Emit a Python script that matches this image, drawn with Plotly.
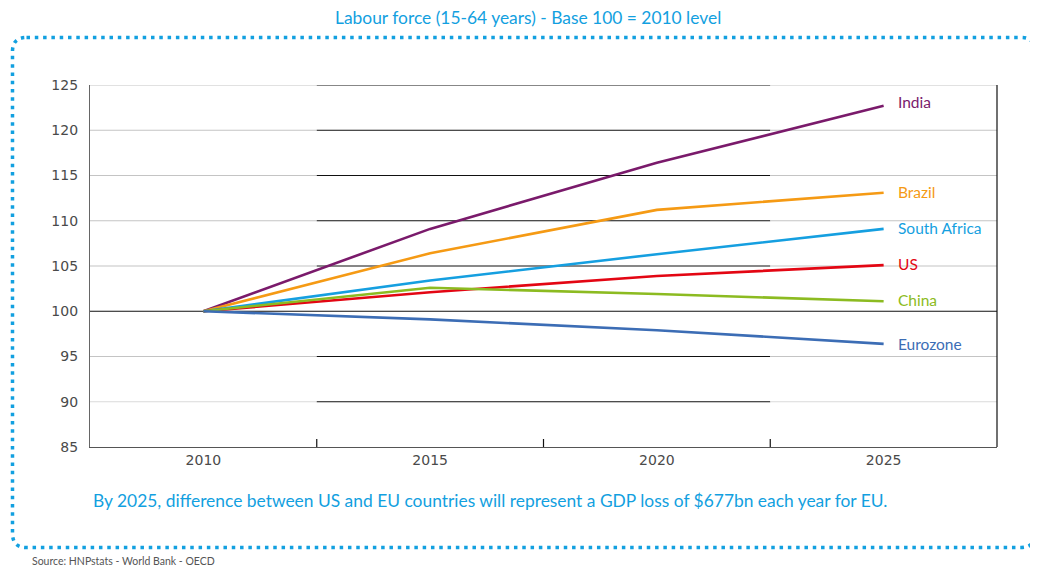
import plotly.graph_objects as go

years = [2010, 2015, 2020, 2025]
india = [100, 109.1, 116.4, 122.7]
brazil = [100, 106.4, 111.2, 113.1]
south_africa = [100, 103.4, 106.3, 109.1]
us = [100, 102.1, 103.9, 105.1]
china = [100, 102.6, 101.9, 101.1]
eurozone = [100, 99.1, 97.9, 96.4]

series = [
    ("India", india, "#7A1A6B"),
    ("Brazil", brazil, "#F59A14"),
    ("South Africa", south_africa, "#159FE0"),
    ("US", us, "#E30613"),
    ("China", china, "#8CBB21"),
    ("Eurozone", eurozone, "#3C6DB5"),
]
label_yshift = {"India": 4, "Brazil": 1, "South Africa": 1, "US": 1, "China": 1, "Eurozone": 0}
y_ticks = [85, 90, 95, 100, 105, 110, 115, 120, 125]
x_bounds = [2012.5, 2017.5, 2022.5]

OFF = 8  # page body margin
W, H = 1030, 560
ML, MT = 90 - OFF, 85 - OFF
MR = W - (997 - OFF)
MB = H - (447 - OFF)
PW, PH = W - ML - MR, H - MT - MB
FONT = "Lato, 'Open Sans', sans-serif"
BLUE = "#12A0E0"

fig = go.Figure()
for name, vals, col in series:
    fig.add_trace(go.Scatter(x=years, y=vals, mode="lines", name=name,
                             line=dict(color=col, width=2.6), showlegend=False,
                             hoverinfo="skip"))
    fig.add_annotation(x=2025, y=vals[-1], text=name, xref="x", yref="y",
                       xanchor="left", xshift=12, yshift=label_yshift[name], showarrow=False,
                       font=dict(family=FONT, size=15.5, color=col))

shapes = []
for yv in y_ticks:
    if yv == 85:
        continue
    if yv == 100:
        shapes.append(dict(type="line", xref="x", yref="y", x0=2007.5, x1=2027.5,
                           y0=yv, y1=yv, line=dict(color="#111", width=1.2), layer="below"))
        continue
    grey = "#C4C4C4" if yv != 90 else "#DADADA"
    shapes.append(dict(type="line", xref="x", yref="y", x0=2007.5, x1=2012.5,
                       y0=yv, y1=yv, line=dict(color=grey, width=1.2), layer="below"))
    shapes.append(dict(type="line", xref="x", yref="y", x0=2012.5, x1=2022.5,
                       y0=yv, y1=yv, line=dict(color="#111", width=1.2), layer="below"))
    shapes.append(dict(type="line", xref="x", yref="y", x0=2022.5, x1=2027.5,
                       y0=yv, y1=yv, line=dict(color=grey, width=1.2), layer="below"))
for xb in x_bounds:
    shapes.append(dict(type="line", xref="x", yref="paper", x0=xb, x1=xb,
                       y0=0, y1=8 / PH, line=dict(color="#111", width=1.2)))
shapes.append(dict(type="line", xref="paper", yref="paper", x0=1, x1=1, y0=0, y1=1,
                   line=dict(color="#111", width=1.2)))


def px(x):
    return (x - OFF - ML) / PW


def py(y):
    return 1 - (y - OFF - MT) / PH


L, R, T, B, r = 12.5, 1035, 37.5, 547.5, 14
pts = [
    ("M", L + r, T), ("L", R - r, T), ("Q", R, T, R, T + r), ("L", R, B - r),
    ("Q", R, B, R - r, B), ("L", L + r, B), ("Q", L, B, L, B - r), ("L", L, T + r),
    ("Q", L, T, L + r, T),
]
path = ""
for p in pts:
    if p[0] == "Q":
        path += f"Q{px(p[1]):.5f},{py(p[2]):.5f} {px(p[3]):.5f},{py(p[4]):.5f} "
    else:
        path += f"{p[0]}{px(p[1]):.5f},{py(p[2]):.5f} "
path += "Z"
shapes.append(dict(type="path", xref="paper", yref="paper", path=path,
                   line=dict(color=BLUE, width=3.5, dash="3.5px,4.8px")))

fig.update_layout(
    width=W, height=H,
    margin=dict(l=ML, r=MR, t=MT, b=MB),
    paper_bgcolor="white", plot_bgcolor="white",
    shapes=shapes,
    xaxis=dict(range=[2007.5, 2027.5], tickvals=years, ticktext=[str(y) for y in years],
               showgrid=False, zeroline=False, showline=True, linecolor="#555",
               linewidth=1.2, ticks="", tickfont=dict(family="DejaVu Sans", size=14, color="#4a4a4a"),
               fixedrange=True),
    yaxis=dict(range=[85, 125], tickvals=y_ticks, showgrid=False, zeroline=False,
               showline=True, linecolor="#666", linewidth=1.2, ticks="",
               ticklabelstandoff=8,
               tickfont=dict(family="DejaVu Sans", size=14, color="#4a4a4a"), fixedrange=True),
    annotations=list(fig.layout.annotations) + [
        dict(text="Labour force (15-64 years) - Base 100 = 2010 level", xref="paper",
             yref="paper", x=px(528), y=py(18), xanchor="center", yanchor="middle",
             showarrow=False, font=dict(family=FONT, size=17.4, color=BLUE)),
        dict(text="By 2025, difference between US and EU countries will represent a GDP loss of $677bn each year for EU.",
             xref="paper", yref="paper", x=px(490), y=py(500), xanchor="center",
             yanchor="middle", showarrow=False, font=dict(family=FONT, size=17.4, color=BLUE)),
        dict(text="Source: HNPstats - World Bank - OECD", xref="paper", yref="paper",
             x=px(30), y=py(561), xanchor="left", yanchor="middle", showarrow=False,
             font=dict(family=FONT, size=10.5, color="#555")),
    ],
)
fig.write_html("out.html")
